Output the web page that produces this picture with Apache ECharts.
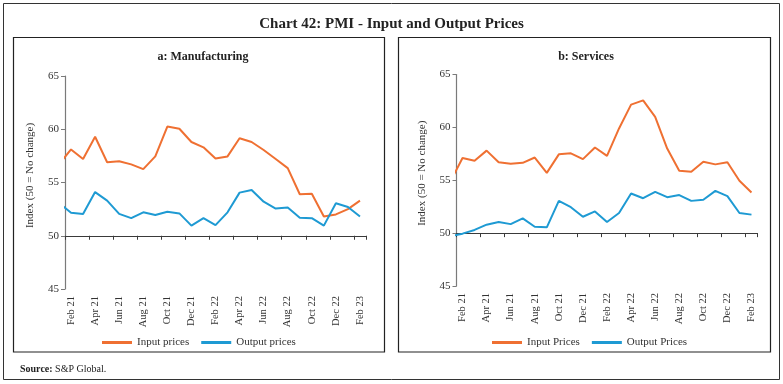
<!DOCTYPE html>
<html>
<head>
<meta charset="utf-8">
<script src="https://cdn.jsdelivr.net/npm/echarts@6/dist/echarts.min.js"></script>
<style>
html,body{margin:0;padding:0;background:#fff;}
#c{width:783px;height:384px;}
</style>
</head>
<body>
<div id="c"></div>
<script>
// Months (index 0 = Jan 21 lies just outside the plotted range; its segment is clipped)
const months = ['Jan 21','Feb 21','Mar 21','Apr 21','May 21','Jun 21','Jul 21','Aug 21','Sep 21','Oct 21','Nov 21','Dec 21',
  'Jan 22','Feb 22','Mar 22','Apr 22','May 22','Jun 22','Jul 22','Aug 22','Sep 22','Oct 22','Nov 22','Dec 22','Jan 23','Feb 23'];

// a: Manufacturing
const mfgInput  = [56.7,58.1,57.2,59.3,56.9,57.0,56.7,56.25,57.45,60.25,60.05,58.8,58.3,57.25,57.45,59.15,58.8,58.05,57.2,56.35,53.9,53.95,51.8,52.0,52.5,53.3];
const mfgOutput = [53.1,52.15,52.05,54.1,53.3,52.05,51.65,52.2,51.95,52.25,52.1,50.95,51.65,51.0,52.2,54.05,54.3,53.2,52.55,52.65,51.7,51.65,50.95,53.05,52.7,51.8];

// b: Services
const svcInput  = [54.9,57.1,56.85,57.8,56.7,56.55,56.65,57.15,55.7,57.45,57.55,57.0,58.1,57.3,59.9,62.15,62.55,61.0,58.0,55.9,55.8,56.75,56.5,56.7,54.95,53.85];
const svcOutput = [49.7,49.95,50.3,50.8,51.05,50.85,51.4,50.6,50.55,53.05,52.45,51.55,52.05,51.05,51.9,53.75,53.3,53.9,53.4,53.6,53.05,53.15,54.0,53.5,51.9,51.75];

const yTicks = {min:45, max:65, step:5, cross:50};
const titleText = 'Chart 42: PMI - Input and Output Prices';
const panelTitles = ['a: Manufacturing','b: Services'];
const legendA = ['Input prices','Output prices'];
const legendB = ['Input Prices','Output Prices'];
const yName = 'Index (50 = No change)';

const FONT = 'Liberation Serif';
const ORANGE = '#EF7032';
const BLUE = '#1E9AD3';

const grids = [
  {left:65, top:76, width:301, height:213},
  {left:456.5, top:74.5, width:301, height:211.5}
];

const everyOther = (idx) => idx % 2 === 1;

function xAxisFor(i){
  const h = grids[i].height;
  const off = h*(yTicks.cross - yTicks.min)/(yTicks.max - yTicks.min);
  return {
    type:'category', gridIndex:i, data:months, min:1, max:months.length-1,
    boundaryGap:true, position:'bottom', offset:-off,
    axisLine:{show:true, lineStyle:{color:'#3a3a3a', width:1.2}},
    axisTick:{show:true, interval:everyOther, length:4, alignWithLabel:false, lineStyle:{color:'#3a3a3a'}},
    axisLabel:{interval:everyOther, rotate:90, margin:off+7, fontFamily:FONT, fontSize:10.5, color:'#333'},
    splitLine:{show:false}
  };
}
function yAxisFor(i){
  return {
    type:'value', gridIndex:i, min:yTicks.min, max:yTicks.max, interval:yTicks.step,
    name:yName, nameLocation:'middle', nameGap:29,
    nameTextStyle:{fontFamily:FONT, fontSize:11, color:'#333', padding:[0,0,0,14]},
    axisLine:{show:true, lineStyle:{color:'#7a7a7a', width:1.2}},
    axisTick:{show:true, length:4, lineStyle:{color:'#7a7a7a'}},
    axisLabel:{margin:6, fontFamily:FONT, fontSize:11, color:'#333'},
    splitLine:{show:false}
  };
}
function lineSeries(name, data, color, i){
  return {type:'line', name:name, data:data, xAxisIndex:i, yAxisIndex:i,
    showSymbol:false, symbol:'none', clip:true, smooth:false,
    lineStyle:{color:color, width:2}, itemStyle:{color:color}};
}

const chart = echarts.init(document.getElementById('c'), null, {renderer:'canvas'});
chart.setOption({
  animation:false,
  backgroundColor:'#fff',
  graphic:[
    {type:'rect', shape:{x:3.5, y:3.5, width:776, height:376}, style:{fill:'none', stroke:'#333', lineWidth:1}},
    {type:'rect', shape:{x:13.5, y:37.5, width:371, height:314.5}, style:{fill:'none', stroke:'#222', lineWidth:1.2}},
    {type:'rect', shape:{x:398.5, y:37.5, width:372, height:314.5}, style:{fill:'none', stroke:'#222', lineWidth:1.2}}
  ],
  title:[
    {text:titleText, left:'center', top:12, textStyle:{fontFamily:FONT, fontSize:15, fontWeight:'bold', color:'#222'}},
    {text:panelTitles[0], left:198, top:46, textAlign:'center', textStyle:{fontFamily:FONT, fontSize:12, fontWeight:'bold', color:'#222'}},
    {text:panelTitles[1], left:581, top:46, textAlign:'center', textStyle:{fontFamily:FONT, fontSize:12, fontWeight:'bold', color:'#222'}},
    {text:'{b|Source:} S&P Global.', left:15, top:359,
      textStyle:{fontFamily:FONT, fontSize:10, fontWeight:'normal', color:'#222',
        rich:{b:{fontFamily:FONT, fontSize:10, fontWeight:'bold', color:'#222'}}}}
  ],
  legend:[
    {data:legendA, left:97, top:332, itemWidth:30, itemHeight:3, itemGap:12, icon:'rect',
      textStyle:{fontFamily:FONT, fontSize:11, color:'#333'}},
    {data:legendB, left:487, top:332, itemWidth:30, itemHeight:3, itemGap:12, icon:'rect',
      textStyle:{fontFamily:FONT, fontSize:11, color:'#333'}}
  ],
  grid:grids,
  xAxis:[xAxisFor(0), xAxisFor(1)],
  yAxis:[yAxisFor(0), yAxisFor(1)],
  series:[
    lineSeries(legendA[0], mfgInput, ORANGE, 0),
    lineSeries(legendA[1], mfgOutput, BLUE, 0),
    lineSeries(legendB[0], svcInput, ORANGE, 1),
    lineSeries(legendB[1], svcOutput, BLUE, 1)
  ]
});
</script>
</body>
</html>
